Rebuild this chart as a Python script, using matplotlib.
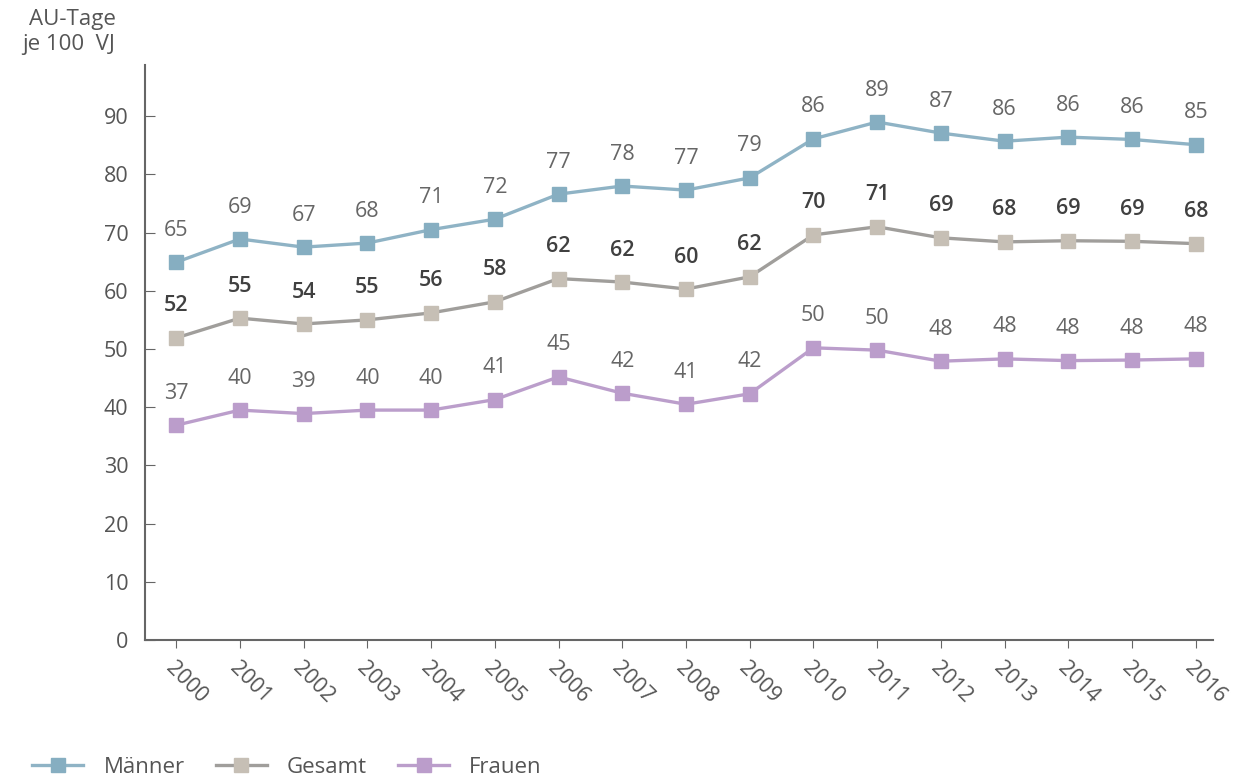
import numpy as np
import matplotlib.pyplot as plt

plt.rcParams['font.family'] = ['Open Sans', 'DejaVu Sans']

years = list(range(2000, 2017))

maenner = [64.9, 68.9, 67.5, 68.2, 70.5, 72.3, 76.6, 78.0, 77.3, 79.4,
           86.1, 89.0, 87.1, 85.7, 86.4, 86.0, 85.1]
maenner_lbl = [65, 69, 67, 68, 71, 72, 77, 78, 77, 79, 86, 89, 87, 86, 86, 86, 85]

gesamt = [51.9, 55.3, 54.3, 55.0, 56.2, 58.1, 62.1, 61.5, 60.3, 62.4,
          69.6, 71.0, 69.1, 68.4, 68.6, 68.5, 68.1]
gesamt_lbl = [52, 55, 54, 55, 56, 58, 62, 62, 60, 62, 70, 71, 69, 68, 69, 69, 68]

frauen = [36.9, 39.5, 38.9, 39.5, 39.5, 41.3, 45.2, 42.4, 40.5, 42.3,
          50.2, 49.8, 47.9, 48.3, 48.0, 48.1, 48.3]
frauen_lbl = [37, 40, 39, 40, 40, 41, 45, 42, 41, 42, 50, 50, 48, 48, 48, 48, 48]

yticks = list(range(0, 100, 10))

fs = 15.5
fig = plt.figure(figsize=(12.41, 7.78), dpi=100)
ax = fig.add_axes([0.1168, 0.1774, 0.8606, 0.7391])

x = np.arange(len(years))
series = [
    ('Männer', maenner, maenner_lbl, '#8fb3c5', '#86aec1', 'normal', '#666666'),
    ('Gesamt', gesamt, gesamt_lbl, '#a09e9b', '#c6bfb5', 'semibold', '#404040'),
    ('Frauen', frauen, frauen_lbl, '#bb9ecb', '#bb9dcb', 'normal', '#666666'),
]
handles = []
for name, vals, lbls, lc, mc, fw, tc in series:
    h, = ax.plot(x, vals, color=lc, lw=2.4, marker='s', markersize=10,
                 markerfacecolor=mc, markeredgecolor=mc, label=name)
    handles.append(h)
    for xi, v, l in zip(x, vals, lbls):
        ax.annotate(str(l), (xi, v), xytext=(0, 23), textcoords='offset points',
                    ha='center', va='center', fontsize=fs, color=tc, fontweight=fw)

ax.set_xlim(-0.49, 16.27)
ax.set_ylim(0, 98.8)
ax.set_yticks(yticks)
ax.set_xticks(x)
ax.set_xticklabels([str(y) for y in years], rotation=-45, ha='left', va='top',
                   rotation_mode='anchor')
ax.tick_params(axis='y', direction='in', length=7, color='#666666', labelsize=fs,
               labelcolor='#555555', pad=12)
ax.tick_params(axis='x', direction='out', length=6, color='#666666', labelsize=fs,
               labelcolor='#555555', pad=7)
for s in ['top', 'right']:
    ax.spines[s].set_visible(False)
for s in ['left', 'bottom']:
    ax.spines[s].set_color('#666666')
    ax.spines[s].set_linewidth(1.5)

fig.text(0.093, 0.988, 'AU-Tage\nje 100  VJ', ha='right', va='top', fontsize=16,
         color='#555555', linespacing=1.25)

fig.legend(handles=handles, loc='center left', bbox_to_anchor=(0.026, 0.014), ncol=3,
           frameon=False, fontsize=16, handlelength=2.3, columnspacing=1.4,
           handletextpad=0.9, labelcolor='#555555', borderaxespad=0, borderpad=0)

fig.savefig('out.png', dpi=100)
